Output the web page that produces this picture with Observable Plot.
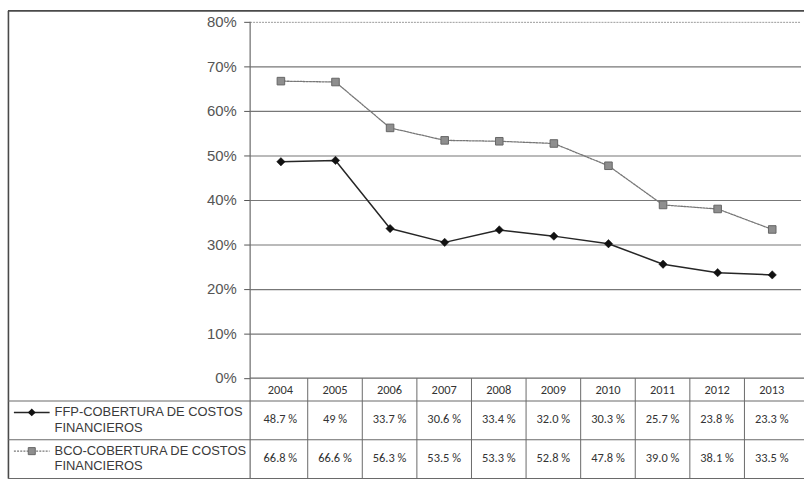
<!DOCTYPE html>
<html>
<head>
<meta charset="utf-8">
<script src="https://cdn.jsdelivr.net/npm/d3@7"></script>
<script src="https://cdn.jsdelivr.net/npm/@observablehq/plot@0.6"></script>
<style>
  html, body { margin: 0; padding: 0; background: #fff; overflow: hidden; }
  #chart { position: relative; width: 804px; height: 485px; overflow: hidden; }
  #chart svg { display: block; }
</style>
</head>
<body>
<div id="chart"></div>
<script>
// Coverage of financial costs, 2004–2013 (percent)
const years = ["2004", "2005", "2006", "2007", "2008", "2009", "2010", "2011", "2012", "2013"];
const ffpValues = [48.7, 49, 33.7, 30.6, 33.4, 32.0, 30.3, 25.7, 23.8, 23.3];
const bcoValues = [66.8, 66.6, 56.3, 53.5, 53.3, 52.8, 47.8, 39.0, 38.1, 33.5];
const ffpLabels = ["48.7 %", "49 %", "33.7 %", "30.6 %", "33.4 %", "32.0 %", "30.3 %", "25.7 %", "23.8 %", "23.3 %"];
const bcoLabels = ["66.8 %", "66.6 %", "56.3 %", "53.5 %", "53.3 %", "52.8 %", "47.8 %", "39.0 %", "38.1 %", "33.5 %"];
const yTicks = [0, 10, 20, 30, 40, 50, 60, 70, 80];
const ffpName = ["FFP-COBERTURA DE COSTOS", "FINANCIEROS"];
const bcoName = ["BCO-COBERTURA DE COSTOS", "FINANCIEROS"];

const ffp = years.map((year, i) => ({year, value: ffpValues[i]}));
const bco = years.map((year, i) => ({year, value: bcoValues[i]}));

const W = 810, H = 485;
const ML = 252, MT = 22, MB = 104, MR = 3;

const ffpColor = "#262626";
const bcoLine = "#777";
const bcoFill = "#8e8e8e";

const chart = Plot.plot({
  width: W,
  height: H,
  marginLeft: ML,
  marginRight: MR,
  marginTop: MT,
  marginBottom: MB,
  style: {fontFamily: "'Liberation Sans', Arial, sans-serif", background: "white", overflow: "visible"},
  x: {type: "band", domain: years, padding: 0, axis: null},
  y: {domain: [0, 80], axis: null, label: null},
  marks: [
    Plot.gridY(yTicks.filter(t => t > 0 && t < 80), {stroke: "#777", strokeOpacity: 1, strokeWidth: 1.1}),
    Plot.gridY([80], {stroke: "#999", strokeOpacity: 1, strokeWidth: 1, strokeDasharray: "2,1"}),
    Plot.axisY(yTicks, {
      tickFormat: d => d + "%",
      tickSize: 6,
      tickPadding: 8,
      fontSize: 15,
      color: "#555",
      label: null
    }),
    Plot.line(bco, {x: "year", y: "value", stroke: bcoLine, strokeWidth: 1.3, strokeDasharray: "2,1.2"}),
    Plot.dot(bco, {x: "year", y: "value", symbol: "square", r: 4.3, fill: bcoFill, stroke: "#666", strokeWidth: 1}),
    Plot.line(ffp, {x: "year", y: "value", stroke: ffpColor, strokeWidth: 1.5}),
    Plot.dot(ffp, {x: "year", y: "value", symbol: "diamond2", r: 3.8, fill: "#111", stroke: "#111", strokeWidth: 0.5})
  ]
});

document.getElementById("chart").appendChild(chart);

// Data table under the plot, aligned with the x band scale
const xs = chart.scale("x");
const ys = chart.scale("y");
const bw = xs.bandwidth;
const y0 = ys.apply(0);
const rowTop1 = y0 + 23, rowTop2 = y0 + 62, rowBottom = y0 + 101;
const svg = d3.select(chart);
const g = svg.append("g").attr("class", "table").attr("text-anchor", "start");
const lineColor = "#6a6a6a";

// outer frame (top and left)
g.append("line").attr("x1", 8).attr("x2", W).attr("y1", 11).attr("y2", 11)
  .attr("stroke", "#4a4a4a").attr("stroke-width", 1.6);
g.append("line").attr("x1", 8.5).attr("x2", 8.5).attr("y1", 11).attr("y2", rowBottom)
  .attr("stroke", "#4a4a4a").attr("stroke-width", 1.6);

// y axis line, continued down through the table
g.append("line").attr("x1", ML).attr("x2", ML).attr("y1", MT).attr("y2", rowBottom)
  .attr("stroke", lineColor).attr("stroke-width", 1.2);
// zero baseline
g.append("line").attr("x1", ML).attr("x2", W).attr("y1", y0).attr("y2", y0)
  .attr("stroke", lineColor).attr("stroke-width", 1.2);

// row separators
[rowTop1, rowTop2, rowBottom].forEach(y => {
  g.append("line").attr("x1", 8).attr("x2", W).attr("y1", y).attr("y2", y)
    .attr("stroke", lineColor).attr("stroke-width", 1.1);
});

// column separators
years.slice(1).forEach(yr => {
  const x = xs.apply(yr);
  g.append("line").attr("x1", x).attr("x2", x).attr("y1", y0).attr("y2", rowBottom)
    .attr("stroke", lineColor).attr("stroke-width", 1);
});

const cellFont = "Carlito, Lato, 'Open Sans', sans-serif";

// year header
g.selectAll("text.year").data(years).join("text")
  .attr("class", "year")
  .attr("x", d => xs.apply(d) + bw / 2)
  .attr("y", (y0 + rowTop1) / 2 + 1)
  .attr("text-anchor", "middle").attr("dominant-baseline", "middle")
  .attr("font-family", cellFont).attr("font-size", 12.5).attr("fill", "#333")
  .text(d => d);

// value rows
[[ffpLabels, (rowTop1 + rowTop2) / 2], [bcoLabels, (rowTop2 + rowBottom) / 2]].forEach(([labels, cy]) => {
  g.selectAll(null).data(years).join("text")
    .attr("x", d => xs.apply(d) + bw / 2)
    .attr("y", cy)
    .attr("text-anchor", "middle").attr("dominant-baseline", "middle")
    .attr("font-family", cellFont).attr("font-size", 12.5).attr("fill", "#333")
    .text((d, i) => labels[i]);
});

// series names with legend keys
const nameFont = "'Liberation Sans', Arial, sans-serif";
function seriesRow(name, top, bottom, key) {
  const cy = (top + bottom) / 2;
  const l1 = cy - 8, l2 = cy + 8;
  name.forEach((t, i) => {
    g.append("text").attr("x", 55).attr("y", i ? l2 : l1)
      .attr("text-anchor", "start")
      .attr("dominant-baseline", "middle")
      .attr("font-family", nameFont).attr("font-size", 13).attr("fill", "#3a3a3a")
      .text(t);
  });
  key(l1);
}

seriesRow(ffpName, rowTop1, rowTop2, y => {
  g.append("line").attr("x1", 14).attr("x2", 50).attr("y1", y).attr("y2", y)
    .attr("stroke", ffpColor).attr("stroke-width", 1.5);
  g.append("path").attr("d", d3.symbol(d3.symbolDiamond2, 40)())
    .attr("transform", `translate(32,${y})`).attr("fill", "#111");
});

seriesRow(bcoName, rowTop2, rowBottom, y => {
  g.append("line").attr("x1", 14).attr("x2", 50).attr("y1", y).attr("y2", y)
    .attr("stroke", bcoLine).attr("stroke-width", 1.3).attr("stroke-dasharray", "2,1.2");
  g.append("path").attr("d", d3.symbol(d3.symbolSquare, 50)())
    .attr("transform", `translate(32,${y})`).attr("fill", bcoFill).attr("stroke", "#666");
});
</script>
</body>
</html>
